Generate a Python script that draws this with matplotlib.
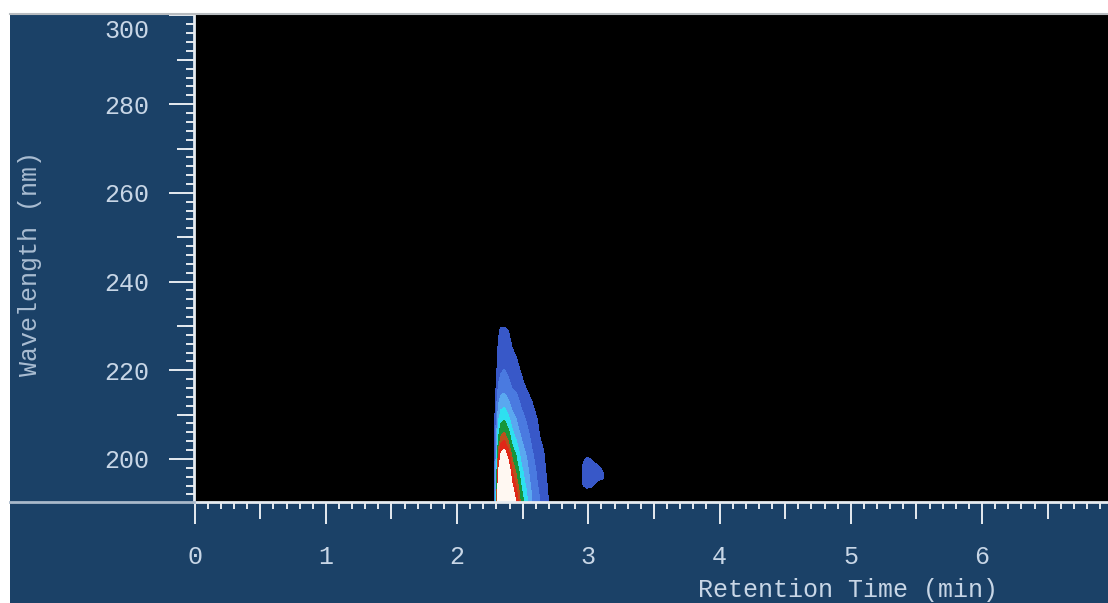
import numpy as np
import matplotlib.pyplot as plt
from matplotlib.ticker import MultipleLocator, FuncFormatter
from matplotlib.patches import Rectangle
from matplotlib.lines import Line2D

# main peak: absorbance (rows = wavelength, cols = time)
T_MAIN = [2.28, 2.298, 2.315, 2.335, 2.36, 2.39, 2.42, 2.45, 2.49, 2.53, 2.57, 2.61, 2.65, 2.69, 2.73]
WL_MAIN = [190, 193, 197, 201, 205, 209, 213, 217, 221, 225, 229, 233]
ABS_MAIN = [
    [0, 0.39, 0.98, 1.24, 1.30, 1.11, 0.83, 0.70, 0.48, 0.35, 0.22, 0.15, 0.10, 0.06, 0],
    [0, 0.35, 0.86, 1.09, 1.15, 0.98, 0.74, 0.62, 0.43, 0.31, 0.20, 0.13, 0.09, 0.05, 0],
    [0, 0.29, 0.71, 0.90, 0.95, 0.81, 0.61, 0.51, 0.35, 0.26, 0.16, 0.11, 0.07, 0.04, 0],
    [0, 0.23, 0.57, 0.72, 0.76, 0.65, 0.49, 0.41, 0.28, 0.21, 0.13, 0.09, 0.06, 0.03, 0],
    [0, 0.17, 0.42, 0.53, 0.56, 0.48, 0.36, 0.30, 0.21, 0.15, 0.10, 0.06, 0.04, 0.02, 0],
    [0, 0.12, 0.31, 0.39, 0.41, 0.35, 0.26, 0.22, 0.15, 0.11, 0.07, 0.05, 0.03, 0.02, 0],
    [0, 0.08, 0.20, 0.26, 0.27, 0.23, 0.17, 0.15, 0.10, 0.07, 0.05, 0.03, 0.02, 0.01, 0],
    [0, 0.05, 0.12, 0.15, 0.16, 0.14, 0.10, 0.09, 0.06, 0.04, 0.03, 0.02, 0.01, 0, 0],
    [0, 0.03, 0.08, 0.10, 0.11, 0.09, 0.07, 0.06, 0.04, 0.03, 0.02, 0.01, 0.01, 0, 0],
    [0, 0.02, 0.06, 0.08, 0.08, 0.07, 0.05, 0.04, 0.03, 0.02, 0.01, 0.01, 0, 0, 0],
    [0, 0.01, 0.04, 0.06, 0.06, 0.05, 0.04, 0.03, 0.02, 0.01, 0.01, 0, 0, 0, 0],
    [0, 0, 0, 0, 0, 0, 0, 0, 0, 0, 0, 0, 0, 0, 0],
]

# small peak near 3 min
T_SMALL = [2.93, 2.96, 2.99, 3.02, 3.05, 3.08, 3.11, 3.14]
WL_SMALL = [192, 194, 196, 198, 200, 202]
ABS_SMALL = [
    [0, 0, 0, 0, 0, 0, 0, 0],
    [0, 0.05, 0.07, 0.065, 0.04, 0.02, 0, 0],
    [0, 0.06, 0.09, 0.09, 0.08, 0.07, 0.065, 0],
    [0, 0.06, 0.09, 0.085, 0.075, 0.06, 0.04, 0],
    [0, 0.04, 0.06, 0.05, 0.03, 0.01, 0, 0],
    [0, 0, 0, 0, 0, 0, 0, 0],
]

LEVELS = [0.05, 0.12, 0.22, 0.32, 0.42, 0.52, 0.60, 0.70, 2.0]
COLORS = ['#3858c8', '#4a7ae0', '#5aa8f0', '#2ee0f0', '#17963a', '#b8501c', '#e02818', '#fff8f2']

PANEL = '#1b4167'
TICK = '#e6ebf0'
LABEL = '#c8d6e6'
FS = 18

plt.rcParams['font.family'] = ['Liberation Mono', 'DejaVu Sans Mono']

W, H = 1108, 603
fig = plt.figure(figsize=(W / 100, H / 100), dpi=100, facecolor='white')
fig.add_artist(Rectangle((10 / W, 0), 1 - 10 / W, 1 - 13 / H, transform=fig.transFigure,
                         facecolor=PANEL, edgecolor='none', zorder=-5))

ax = fig.add_axes([194 / W, 101 / H, 914 / W, 487 / H])
ax.set_facecolor('black')
ax.contourf(T_MAIN, WL_MAIN, ABS_MAIN, levels=LEVELS, colors=COLORS)
ax.contourf(T_SMALL, WL_SMALL, ABS_SMALL, levels=LEVELS, colors=COLORS)

ax.set_xlim(-0.005, 6.96)
ax.set_ylim(190.3, 300.1)

for s in ['top', 'right']:
    ax.spines[s].set_visible(False)
for s in ['left', 'bottom']:
    ax.spines[s].set_color(TICK)
    ax.spines[s].set_linewidth(2)

ax.xaxis.set_major_locator(MultipleLocator(1))
ax.xaxis.set_minor_locator(MultipleLocator(0.1))
ax.yaxis.set_major_locator(MultipleLocator(20))
ax.yaxis.set_minor_locator(MultipleLocator(2))
ax.yaxis.set_major_formatter(FuncFormatter(lambda v, p: '' if v >= 299 else '%d' % v))

ax.tick_params(which='both', colors=TICK, labelcolor=LABEL, labelsize=FS, width=1.4, direction='out')
ax.tick_params(axis='x', which='major', length=16, pad=15)
ax.tick_params(axis='y', which='major', length=18, pad=14)
ax.tick_params(axis='x', which='minor', length=5)
ax.tick_params(axis='y', which='minor', length=6)

# medium ticks at the halves
secx = ax.secondary_xaxis('bottom')
secx.xaxis.set_major_locator(MultipleLocator(1, offset=0.5))
secx.tick_params(length=12, width=1.4, colors=TICK, labelbottom=False, direction='out')
secy = ax.secondary_yaxis('left')
secy.yaxis.set_major_locator(MultipleLocator(20, offset=10))
secy.tick_params(length=12, width=1.4, colors=TICK, labelleft=False, direction='out')
for sa in (secx, secy):
    for sp in sa.spines.values():
        sp.set_visible(False)

# labels cut at the edges
ax.annotate('300', xy=(0, 1), xycoords='axes fraction', xytext=(-45, -16),
            textcoords='offset pixels', ha='right', va='center', color=LABEL, fontsize=FS)
ax.annotate('7', xy=(7, 0), xycoords=('data', 'axes fraction'), xytext=(0, -43),
            textcoords='offset pixels', ha='center', va='top', color=LABEL, fontsize=FS,
            annotation_clip=False)

ax.set_xlabel('Retention Time (min)', color=LABEL, fontsize=FS)
ax.xaxis.label.set_va('center')
ax.xaxis.set_label_coords(0.7155, -0.181)
ax.set_ylabel('Wavelength (nm)', color='#aabdd2', fontsize=FS)
ax.yaxis.label.set_va('center')
ax.yaxis.set_label_coords(-0.179, 0.489)

fig.add_artist(Line2D([10 / W, 1], [1 - 14 / H, 1 - 14 / H], color='#b8bcc0', lw=1.5))
fig.add_artist(Line2D([10 / W, 194 / W], [101 / H, 101 / H], color='#a9b9ca', lw=2))

fig.savefig('out.png', dpi=100, facecolor='white')
